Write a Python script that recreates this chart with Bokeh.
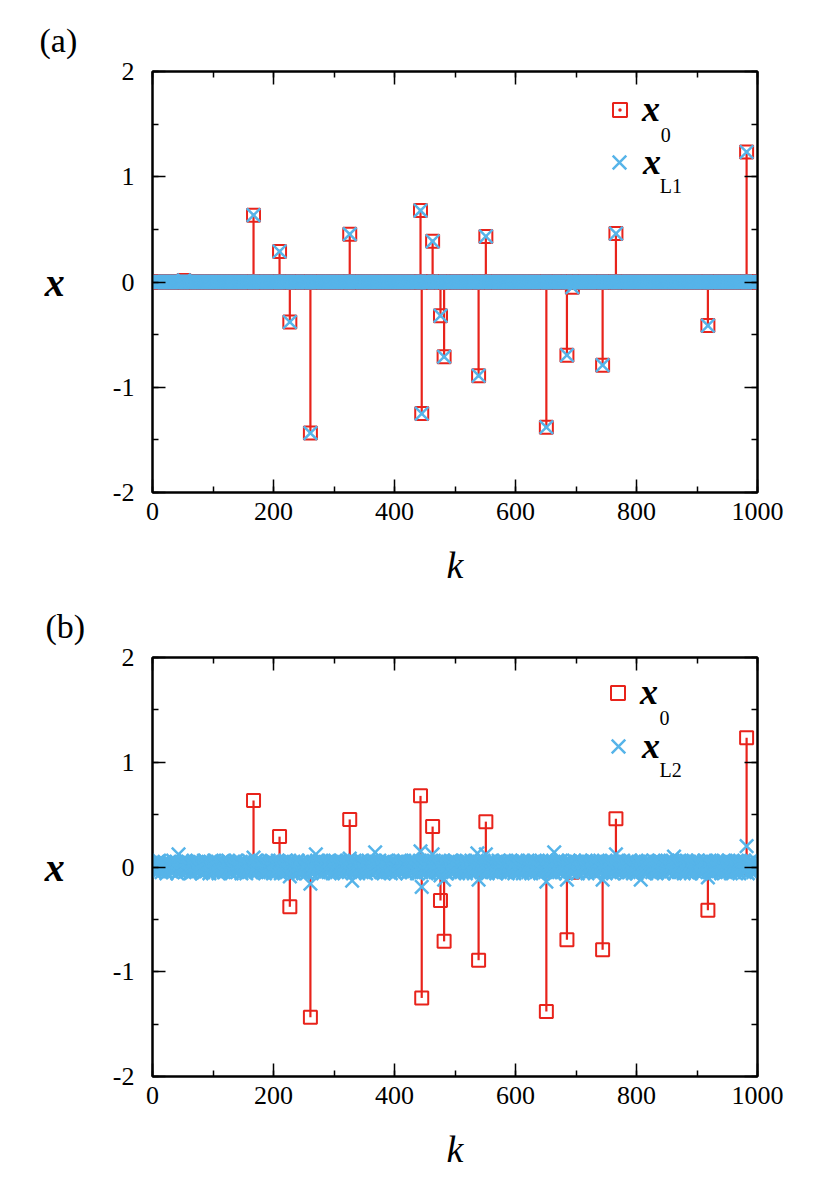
import numpy as np
from bokeh.plotting import figure
from bokeh.models import (ColumnDataSource, LinearAxis, SingleIntervalTicker, Label,
                          Legend, LegendItem, CustomJSTickFormatter)
from bokeh.layouts import column
from bokeh.embed import file_html
from bokeh.resources import INLINE

# ---------------- data ----------------
k_values = list(range(0, 1001))

# non-zero entries of the sparse signal x0 (index k, value)
support_k = [52, 167, 210, 227, 261, 326, 443, 445, 463, 476, 482, 539, 551,
             651, 685, 694, 744, 766, 918, 982]
support_x0 = [0.015, 0.635, 0.29, -0.38, -1.435, 0.454, 0.679, -1.25, 0.386,
              -0.32, -0.71, -0.89, 0.433, -1.38, -0.695, -0.05, -0.79, 0.46,
              -0.414, 1.235]
# L1 reconstruction (panel a) - matches x0 on the same support
support_xL1 = [0.015, 0.635, 0.29, -0.38, -1.435, 0.454, 0.679, -1.25, 0.386,
               -0.32, -0.71, -0.89, 0.433, -1.38, -0.695, -0.05, -0.79, 0.46,
               -0.414, 1.235]
# L2 reconstruction (panel b), values in units of 0.01, k = 0..1000
xL2_hundredths = [
    2,-3,4,1,-5, 3,0,-2,5,-4, 1,6,-3,2,-1, -5,3,4,-2,0, 5,-4,2,-6,3,
    -1,4,-3,5,2, -4,1,3,-5,6, 0,-2,4,-3,1, 5,-6,2,12,-4, 3,-1,5,-3,2,
    4,-2,1,-5,3, 6,-4,2,-1,5, -3,0,4,-6,2, 3,-5,1,6,-2, -4,3,-1,5,-3,
    2,5,-4,1,-2, 4,-6,3,0,-5, 6,-1,2,-4,5, -3,1,4,-2,-6, 3,5,-1,2,-4,
    -5,2,6,-3,1, -2,4,-1,5,-6, 3,0,-4,2,5, -1,-3,6,-5,2, 4,-2,1,-4,3,
    6,-3,2,-5,4, 1,-6,3,-2,5, -4,2,0,6,-1, -5,3,-2,4,1, -3,5,-6,2,-1,
    3,-4,5,1,-2, -6,4,2,-3,6, -1,5,-4,3,-5, 2,0,9,-3,4, -2,6,-5,1,3,
    -4,2,-1,6,-3, 5,1,-5,4,-2, 3,-6,2,5,-4, 1,-3,6,-1,2, -5,4,3,-2,-6,
    5,-2,4,-5,1, 3,-4,6,-1,2, 5,-3,-6,4,1, -2,5,-4,3,-1, 6,-5,2,-3,4,
    -3,6,-9,2,-5, 4,1,-2,5,-6, 3,-1,4,-4,2, 6,-3,1,-5,3, -2,5,-1,4,-6,
    2,-4,5,-1,3, -6,4,-2,6,1, -3,-16,2,-5,4, 3,-1,5,-4,2, 12,-3,6,-2,1,
    -5,3,-2,4,6, -1,2,-6,5,-3, 1,4,-4,3,-2, 5,-5,2,6,-1, -3,4,1,-6,3,
    4,-1,6,-3,2, -5,3,5,-2,-4, 6,1,-6,2,4, -3,5,-1,3,-5, 2,-2,4,6,-4,
    1,8,-3,5,-2, -13,4,2,-5,6, -1,3,-4,1,5, -6,2,4,-3,-1, 6,-5,3,2,-2,
    -4,5,1,-6,3, 2,-3,6,-1,4, -5,2,5,-2,-4, 3,6,-1,14,-5, 4,-3,1,5,-2,
    6,-2,3,-5,4, -1,5,-6,2,1, -4,3,6,-3,-1, 4,-5,2,5,-6, 1,3,-2,4,-4,
    -2,4,-6,5,1, 3,-4,2,-1,6, -5,1,4,-3,5, -2,6,-4,3,-1, 2,-6,5,1,-3,
    5,-3,1,-5,4, 2,6,-2,-4,3, -1,5,-6,2,4, -3,1,6,15,-5, -19,3,-2,5,-4,
    3,-5,6,-1,2, 4,-3,5,-6,1, -2,4,3,12,-4, 6,-1,2,-5,3, 5,-2,-6,4,1,
    -4,-8,5,2,-3, 6,-1,-12,4,-5, 3,1,-6,5,2, -2,4,-4,6,-3, 1,5,-5,3,-1,
    6,-4,2,5,-2, -6,3,1,-3,4, 5,-5,2,-1,6, -4,3,4,-6,1, -2,5,-3,2,4,
    -5,1,6,-2,3, 4,-6,2,-1,5, -3,6,13,-4,-12, 3,5,-2,1,-5, 4,-3,6,-1,2,
    3,12,-4,1,-6, 5,2,-3,4,-1, 6,-5,3,-2,1, 4,-4,5,-6,2, -1,3,6,-3,-5,
    4,-2,5,1,-4, -3,6,-1,3,-5, 2,4,-6,5,-2, 1,-3,6,2,-4, 5,-1,3,-6,4,
    -1,5,-3,2,6, -4,1,-5,4,3, -2,6,-6,1,5, -3,2,-4,4,-1, 6,-5,2,3,-2,
    5,-6,3,-1,4, 2,-4,6,-2,1, -5,3,5,-3,-1, 4,-6,2,6,-4, 1,3,-2,5,-5,
    2,-14,4,-3,5, -1,6,-5,3,1, -4,2,-2,5,14, -6,4,1,-3,6, -2,3,-5,4,-1,
    6,-3,2,-5,4, 1,-2,5,-6,3, -12,4,-1,6,-4, 2,5,-3,1,-5, 3,-2,6,-4,2,
    -3,5,1,-6,4, -2,3,6,-1,-4, 5,-5,2,4,-3, 1,6,-2,3,-6, 4,-1,5,-4,2,
    1,-4,6,-2,3, 5,-6,2,-1,4, -3,5,3,-5,1, 6,-4,2,-2,-12, 4,-3,5,1,-6,
    3,-1,5,-4,2, 6,-5,1,-3,4, 2,-6,5,-2,3, -4,12,-1,6,-5, 1,4,-3,2,-2,
    5,-2,-4,6,1, -3,4,-6,2,5, -1,3,-5,4,-2, 6,1,-4,3,-6, 2,5,-1,-3,4,
    -6,3,2,-4,5, -1,4,-12,6,-2, 1,-5,3,4,-3, 5,-6,2,-1,6, -4,1,5,-2,3,
    4,-5,1,6,-3, 2,-2,5,-6,3, -1,4,6,-4,1, -3,5,-5,2,4, -6,3,-1,5,-2,
    1,6,-3,4,-5, 2,-1,5,-4,3, 6,-2,10,-6,1, 4,-3,5,-1,2, -5,6,-4,3,-2,
    5,-4,2,-6,3, 1,4,-2,6,-5, 3,-1,5,-3,2, -6,4,1,-4,6, -2,3,5,-5,1,
    -3,6,-1,4,-5, 2,5,-6,3,-2, 1,-4,6,2,-3, 5,-1,4,-10,3, -5,6,-2,1,4,
    -6,2,5,-3,1, 4,-5,3,-1,6, -4,2,-2,5,3, -6,1,4,-3,6, -1,5,-5,2,-4,
    3,-2,6,-4,1, 5,-6,2,4,-1, -3,5,-5,3,1, -2,6,-4,2,5, -6,3,-1,4,-3,
    2,5,-3,6,-5, 1,-2,20,4,-6, 3,-1,5,-4,2, 6,-3,1,-5,4, -2,3,6,-1,-4,
    2,
]
if len(xL2_hundredths) != len(k_values):
    raise ValueError("xL2 length %d" % len(xL2_hundredths))

x_ticks = [0, 200, 400, 600, 800, 1000]
y_ticks = [-2, -1, 0, 1, 2]

# ---------------- styles ----------------
RED = "#E8231B"
BLUE = "#56B4E9"
SERIF = "Liberation Serif"

x0 = np.zeros(len(k_values))
x0[support_k] = support_x0
xL1 = np.zeros(len(k_values))
xL1[support_k] = support_xL1
xL2 = np.array(xL2_hundredths, dtype=float) / 100.0


def empty_formatter():
    return CustomJSTickFormatter(code="return ''")


def make_legend(renderers, loc, glyph, standoff):
    return Legend(items=[LegendItem(label="x", renderers=renderers)],
                  location=loc, glyph_width=glyph, glyph_height=glyph,
                  label_height=glyph, spacing=0, padding=0, margin=0,
                  label_standoff=standoff, label_text_font=SERIF,
                  label_text_font_style="bold italic", label_text_font_size="36px",
                  label_text_color="black",
                  background_fill_alpha=0, border_line_alpha=0)


def make_panel(height, top, frame_h, est, est_sub, tag, tag_offset, leg0, leg1, sub_pos, dot):
    p = figure(width=800, height=height, x_range=(0, 1000), y_range=(-2, 2),
               output_backend="svg", toolbar_location=None,
               min_border_left=152, min_border_right=43,
               min_border_top=top, min_border_bottom=height - top - frame_h,
               background_fill_color="white", border_fill_color="white")
    p.grid.visible = False
    p.outline_line_color = "black"
    p.outline_line_width = 2

    src = ColumnDataSource(dict(k=k_values, x0=x0, est=est, zero=np.zeros(len(k_values))))
    p.segment(x0="k", y0="zero", x1="k", y1="x0", source=src, line_color=RED, line_width=2.2)
    sq = p.scatter(x="k", y="x0", source=src, marker="square", size=13,
                   fill_color=None, line_color=RED, line_width=2)
    rends0 = [sq]
    if dot:
        d = p.scatter(x="k", y="x0", source=src, marker="dot", size=14, line_color=RED,
                      fill_color=RED)
        rends0.append(d)
    xr = p.scatter(x="k", y="est", source=src, marker="x", size=19,
                   line_color=BLUE, line_width=2.5)

    # axes
    bottom = p.xaxis[0]
    left = p.yaxis[0]
    bottom.ticker = SingleIntervalTicker(interval=200, num_minor_ticks=2)
    left.ticker = SingleIntervalTicker(interval=1, num_minor_ticks=2)
    top_ax = LinearAxis(ticker=SingleIntervalTicker(interval=200, num_minor_ticks=2),
                        formatter=empty_formatter())
    right_ax = LinearAxis(ticker=SingleIntervalTicker(interval=1, num_minor_ticks=2),
                          formatter=empty_formatter())
    p.add_layout(top_ax, "above")
    p.add_layout(right_ax, "right")
    for ax in [bottom, left, top_ax, right_ax]:
        ax.axis_line_width = 2
        ax.axis_line_color = "black"
        ax.major_tick_in = 13
        ax.major_tick_out = 0
        ax.minor_tick_in = 6
        ax.minor_tick_out = 0
        ax.major_tick_line_width = 1.5
        ax.minor_tick_line_width = 1.5
        ax.major_tick_line_color = "black"
        ax.minor_tick_line_color = "black"
        ax.major_label_text_font = SERIF
        ax.major_label_text_font_size = "26px"
        ax.major_label_text_color = "black"
    bottom.major_label_overrides = {t: str(t) for t in x_ticks}
    left.major_label_overrides = {t: str(t) for t in y_ticks}
    bottom.major_label_standoff = 10
    left.major_label_standoff = 18
    top_ax.major_label_standoff = 0
    right_ax.major_label_standoff = 0

    bottom.axis_label = "k"
    bottom.axis_label_text_font = SERIF
    bottom.axis_label_text_font_style = "italic"
    bottom.axis_label_text_font_size = "38px"
    bottom.axis_label_text_color = "black"
    bottom.axis_label_standoff = 21

    left.axis_label = "x"
    left.axis_label_text_font = SERIF
    left.axis_label_text_font_style = "bold italic"
    left.axis_label_text_font_size = "40px"
    left.axis_label_text_color = "black"
    left.axis_label_orientation = "horizontal"
    left.axis_label_standoff = 45

    p.add_layout(make_legend(rends0, leg0, 35, 5))
    p.add_layout(make_legend([xr], leg1, 48, 0))

    for (sx, sy, txt) in [(sub_pos[0][0], sub_pos[0][1], "0"), (sub_pos[1][0], sub_pos[1][1], est_sub)]:
        p.add_layout(Label(x=sx, y=sy, text=txt, text_font=SERIF, text_font_size="20px",
                           text_align="left", text_baseline="alphabetic", text_color="black"))

    p.title.text = tag
    p.title.align = "left"
    p.title.offset = tag_offset
    p.title.standoff = 25
    p.title.text_font = SERIF
    p.title.text_font_style = "normal"
    p.title.text_font_size = "34px"
    p.title.text_color = "black"
    return p


pa = make_panel(588, 71, 427, xL1, "L1", "(a)", -113, (450, 362), (443, 306),
                [(840, 1.40), (838.6, 0.916)], True)
pb = make_panel(584, 69, 425, xL2, "L2", "(b)", -107, (448, 363), (442, 306),
                [(838, 1.42), (838, 0.927)], False)

layout = column(pa, pb)
open("out.html", "w").write(file_html(layout, INLINE))
